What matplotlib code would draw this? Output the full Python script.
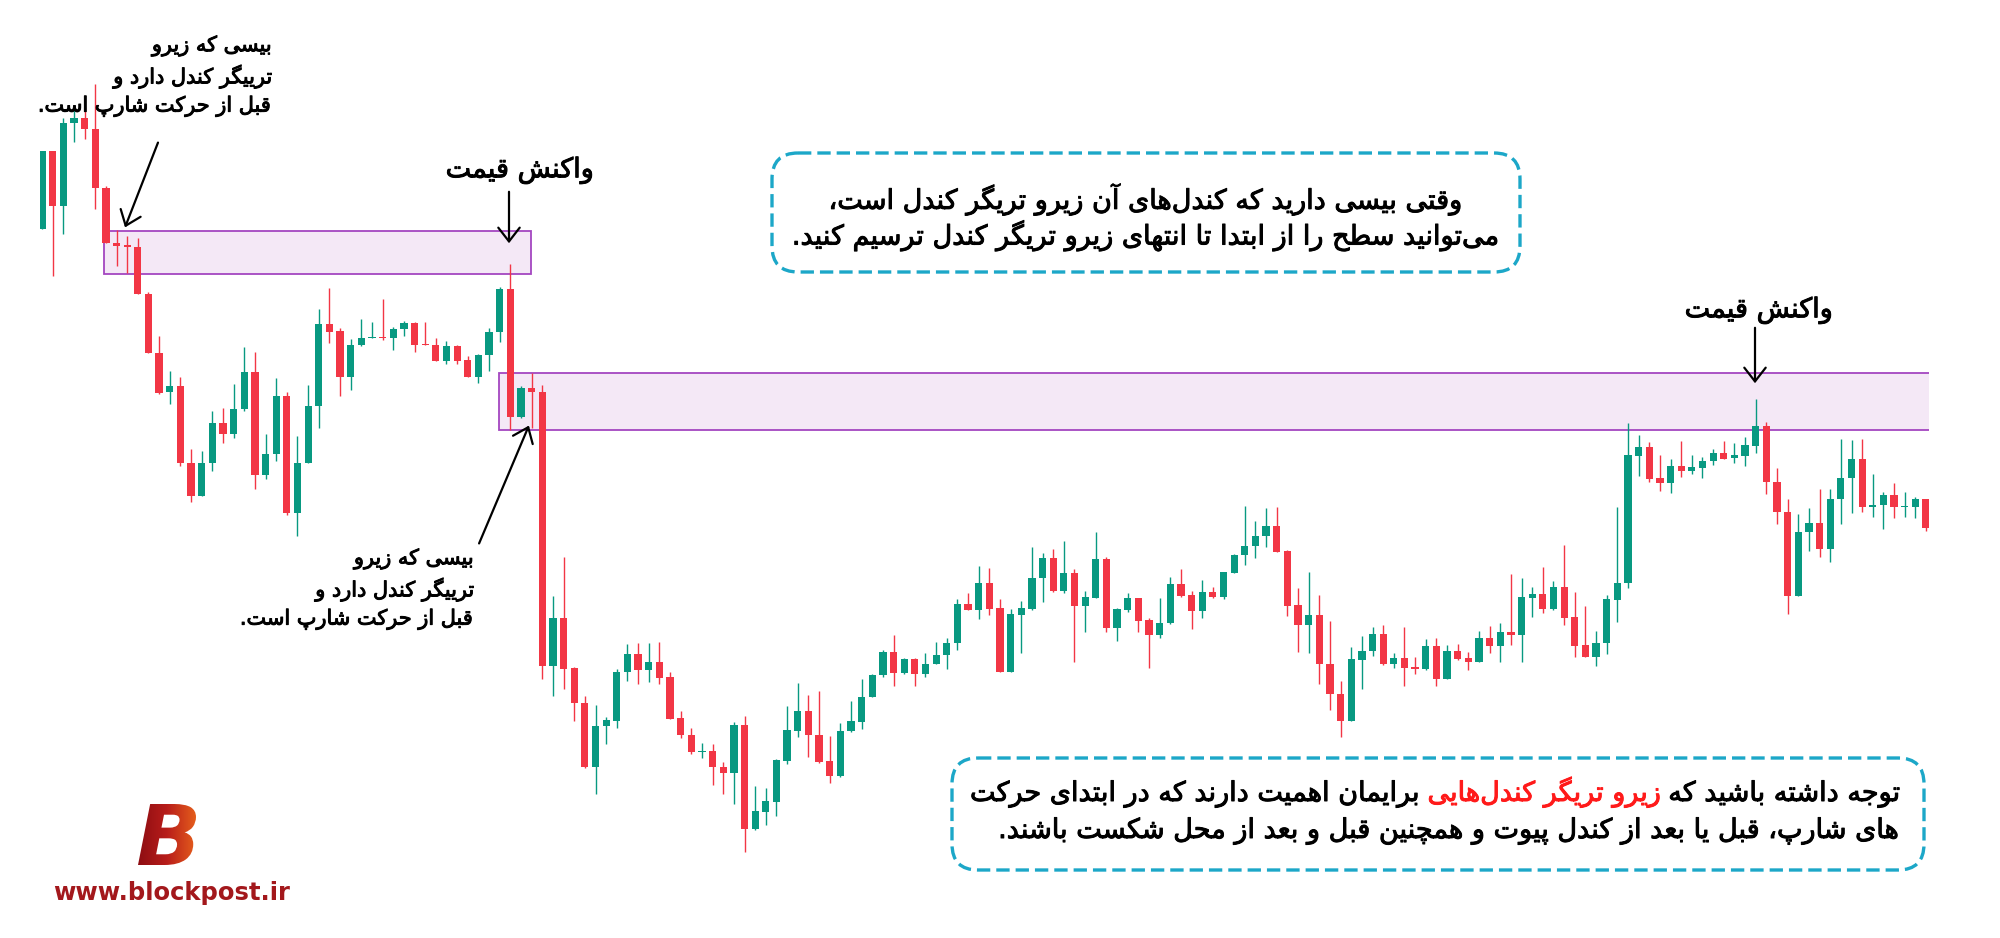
import numpy as np
import matplotlib
matplotlib.use("Agg")
import matplotlib.pyplot as plt
import matplotlib.patheffects as pe
from matplotlib.patches import Rectangle, FancyBboxPatch, FancyArrowPatch, PathPatch
from matplotlib.textpath import TextPath
from matplotlib.font_manager import FontProperties
from matplotlib.transforms import Affine2D
from matplotlib.colors import LinearSegmentedColormap

# candle data (price units)
opens = [771, 849, 794, 877, 882, 871, 812, 757, 755, 753,
         706, 647, 608, 614, 537, 504, 537, 577, 566, 591,
         628, 525, 546, 604, 487, 537, 594, 676, 669, 623,
         655, 662, 663, 662, 671, 677, 656, 655, 639, 654,
         640, 623, 645, 668, 711, 583, 612, 608, 334, 382,
         332, 297, 233, 274, 279, 328, 346, 330, 338, 323,
         282, 265, 248, 249, 233, 227, 275, 171, 188, 198,
         239, 269, 289, 265, 239, 224, 269, 278, 303, 325,
         348, 327, 341, 326, 336, 345, 357, 396, 390, 417,
         392, 328, 385, 391, 422, 442, 409, 427, 394, 402,
         441, 372, 390, 402, 380, 365, 377, 416, 405, 389,
         408, 403, 427, 445, 454, 464, 474, 449, 395, 375,
         385, 336, 306, 279, 340, 349, 366, 336, 342, 333,
         331, 354, 321, 349, 342, 338, 362, 354, 368, 365,
         402, 406, 391, 413, 383, 355, 343, 357, 400, 417,
         544, 553, 522, 517, 534, 529, 532, 539, 547, 542,
         544, 554, 574, 518, 488, 404, 468, 477, 451, 501,
         522, 541, 493, 495, 505, 493, 493, 501]
highs = [849, 849, 882, 894, 893, 916, 814, 770, 764, 762,
         708, 664, 629, 623, 551, 549, 589, 592, 616, 653,
         648, 566, 622, 608, 564, 615, 691, 712, 672, 661,
         681, 678, 701, 673, 679, 678, 678, 662, 659, 655,
         644, 646, 672, 713, 736, 614, 627, 615, 404, 443,
         333, 304, 295, 283, 331, 356, 357, 357, 358, 328,
         289, 272, 257, 256, 238, 278, 284, 214, 212, 241,
         294, 317, 305, 309, 264, 277, 299, 321, 326, 350,
         365, 342, 342, 347, 358, 362, 401, 407, 434, 432,
         401, 391, 399, 453, 447, 451, 459, 431, 409, 468,
         443, 392, 407, 402, 382, 402, 423, 431, 409, 420,
         413, 428, 446, 494, 479, 492, 493, 450, 412, 428,
         405, 379, 319, 353, 364, 373, 375, 347, 373, 343,
         361, 362, 355, 356, 348, 369, 374, 377, 426, 422,
         413, 433, 419, 455, 408, 394, 369, 405, 493, 577,
         565, 558, 545, 541, 559, 545, 543, 551, 559, 557,
         563, 601, 578, 532, 501, 486, 492, 511, 511, 561,
         560, 561, 526, 508, 517, 508, 503, 501]
lows = [771, 724, 766, 858, 861, 791, 757, 734, 727, 706,
        647, 606, 596, 534, 498, 504, 529, 557, 562, 589,
        511, 521, 539, 485, 464, 537, 572, 657, 604, 610,
        654, 662, 660, 650, 664, 648, 655, 639, 636, 636,
        623, 617, 629, 658, 570, 582, 572, 321, 304, 311,
        279, 232, 206, 256, 272, 319, 316, 318, 316, 281,
        262, 246, 242, 215, 206, 196, 148, 170, 175, 184,
        236, 263, 243, 237, 217, 223, 268, 271, 303, 323,
        314, 326, 314, 323, 336, 331, 350, 390, 381, 385,
        328, 328, 347, 390, 398, 408, 407, 338, 368, 402,
        368, 359, 388, 368, 332, 362, 376, 403, 371, 382,
        402, 401, 427, 435, 442, 453, 448, 384, 348, 347,
        316, 290, 263, 279, 311, 344, 335, 332, 314, 326,
        330, 314, 321, 340, 330, 338, 347, 338, 355, 338,
        383, 387, 390, 375, 343, 343, 334, 346, 378, 412,
        524, 518, 509, 507, 523, 526, 522, 535, 541, 537,
        534, 547, 506, 476, 386, 404, 449, 443, 438, 476,
        487, 488, 483, 471, 482, 483, 482, 469]
closes = [849, 794, 877, 882, 871, 812, 757, 754, 753, 706,
          647, 607, 614, 537, 504, 537, 577, 566, 591, 628,
          525, 546, 604, 487, 537, 594, 676, 668, 623, 655,
          662, 663, 662, 671, 677, 655, 655, 639, 654, 639,
          623, 645, 668, 711, 583, 612, 608, 334, 382, 331,
          297, 233, 274, 280, 328, 346, 330, 338, 322, 281,
          265, 248, 249, 233, 227, 275, 171, 189, 199, 240,
          270, 289, 265, 238, 224, 269, 279, 303, 325, 348,
          327, 341, 326, 336, 345, 357, 396, 390, 417, 391,
          328, 386, 392, 422, 442, 409, 427, 394, 403, 441,
          372, 391, 402, 379, 365, 377, 416, 404, 389, 408,
          403, 428, 445, 454, 464, 474, 448, 394, 375, 385,
          336, 306, 279, 341, 349, 366, 336, 342, 332, 331,
          354, 321, 349, 341, 338, 362, 354, 368, 365, 403,
          406, 391, 413, 382, 354, 343, 357, 401, 417, 545,
          553, 521, 517, 534, 529, 533, 539, 547, 541, 545,
          555, 574, 518, 488, 404, 468, 477, 451, 501, 522,
          541, 493, 495, 505, 493, 494, 501, 472]

# zones: (first candle, last candle, low, high)
zones = [(5.85, 45.9, 726, 769), (42.9, 180, 570, 627)]

# texts
ann_lines = ["بیسی که زیرو", "ترییگر کندل دارد و", "قبل از حرکت شارپ است."]
react = "واکنش قیمت"
top_box = ["وقتی بیسی دارید که کندل\u200cهای آن زیرو تریگر کندل است،",
           "می\u200cتوانید سطح را از ابتدا تا انتهای زیرو تریگر کندل ترسیم کنید."]
note_a = "توجه داشته باشید که"
note_b = "زیرو تریگر کندل\u200cهایی"
note_c = "برایمان اهمیت دارند که در ابتدای حرکت"
note_2 = "های شارپ، قبل یا بعد از کندل پیوت و همچنین قبل و بعد از محل شکست باشند."

GREEN = "#089981"
RED = "#f23645"
BLUE = "#1ca7c8"

# simple persian shaping (presentation forms + right to left)
FORMS = {
    "\u0627": ("\ufe8d", "\ufe8e", None, None),
    "\u0622": ("\ufe81", "\ufe82", None, None),
    "\u0628": ("\ufe8f", "\ufe90", "\ufe91", "\ufe92"),
    "\u067e": ("\ufb56", "\ufb57", "\ufb58", "\ufb59"),
    "\u062a": ("\ufe95", "\ufe96", "\ufe97", "\ufe98"),
    "\u062c": ("\ufe9d", "\ufe9e", "\ufe9f", "\ufea0"),
    "\u0686": ("\ufb7a", "\ufb7b", "\ufb7c", "\ufb7d"),
    "\u062d": ("\ufea1", "\ufea2", "\ufea3", "\ufea4"),
    "\u062f": ("\ufea9", "\ufeaa", None, None),
    "\u0631": ("\ufead", "\ufeae", None, None),
    "\u0632": ("\ufeaf", "\ufeb0", None, None),
    "\u0633": ("\ufeb1", "\ufeb2", "\ufeb3", "\ufeb4"),
    "\u0634": ("\ufeb5", "\ufeb6", "\ufeb7", "\ufeb8"),
    "\u0637": ("\ufec1", "\ufec2", "\ufec3", "\ufec4"),
    "\u0639": ("\ufec9", "\ufeca", "\ufecb", "\ufecc"),
    "\u0642": ("\ufed5", "\ufed6", "\ufed7", "\ufed8"),
    "\u06a9": ("\ufb8e", "\ufb8f", "\ufb90", "\ufb91"),
    "\u06af": ("\ufb92", "\ufb93", "\ufb94", "\ufb95"),
    "\u0644": ("\ufedd", "\ufede", "\ufedf", "\ufee0"),
    "\u0645": ("\ufee1", "\ufee2", "\ufee3", "\ufee4"),
    "\u0646": ("\ufee5", "\ufee6", "\ufee7", "\ufee8"),
    "\u0647": ("\ufee9", "\ufeea", "\ufeeb", "\ufeec"),
    "\u0648": ("\ufeed", "\ufeee", None, None),
    "\u06cc": ("\ufbfc", "\ufbfd", "\ufbfe", "\ufbff"),
}


def fa(s):
    s = s.replace("\u064a", "\u06cc").replace("\u0643", "\u06a9")
    out = []
    for i, ch in enumerate(s):
        f = FORMS.get(ch)
        if f is None:
            if ch != "\u200c":
                out.append(ch)
            continue
        prv = s[i - 1] if i > 0 else ""
        nxt = s[i + 1] if i + 1 < len(s) else ""
        jp = prv in FORMS and FORMS[prv][2] is not None
        jn = f[2] is not None and nxt in FORMS
        if jp and jn:
            out.append(f[3])
        elif jp:
            out.append(f[1])
        elif jn:
            out.append(f[2])
        else:
            out.append(f[0])
    return "".join(reversed(out))


def thick(col="black", w=0.7):
    return [pe.withStroke(linewidth=w, foreground=col)]


plt.rcParams["font.family"] = ["DejaVu Sans"]

fig = plt.figure(figsize=(20, 9.38), dpi=100)
ax = fig.add_axes([0.02, 0, 0.9445, 1], zorder=1)

o = np.array(opens)
h = np.array(highs)
l = np.array(lows)
c = np.array(closes)
x = np.arange(len(o))
cols = np.where(c >= o, GREEN, RED)

for z in zones:
    ax.add_patch(Rectangle((z[0], z[2]), z[1] - z[0], z[3] - z[2],
                           facecolor=(0.612, 0.153, 0.69, 0.1),
                           edgecolor="#a446c0", lw=1.3, zorder=1))

ax.vlines(x, l, h, colors=cols, lw=1.0, zorder=2)
ax.bar(x, np.maximum(np.abs(c - o), 1.5), bottom=np.minimum(o, c),
       width=0.68, color=cols, linewidth=0, zorder=3)

ax.set_xlim(-0.19, 177.28)
ax.set_ylim(62, 1000)
ax.axis("off")

# overlay in pixel units for annotations
lay = fig.add_axes([0, 0, 1, 1], zorder=2)
lay.patch.set_alpha(0)


def arrow(p0, p1):
    lay.add_patch(FancyArrowPatch(p0, p1, arrowstyle="->,head_length=0.45,head_width=0.35",
                                  mutation_scale=22, lw=1.6, color="black"))


fs_small = 15
for xr, yc in [(272, 76), (474, 589)]:
    lay.text(xr, yc, "\n".join(fa(s) for s in ann_lines), ha="right", va="center",
             multialignment="right", fontsize=fs_small, linespacing=1.45,
             path_effects=thick())
arrow((159, 140), (124, 230))
arrow((478, 546), (530, 423))

lay.text(520, 170, fa(react), ha="center", va="center", fontsize=19.5, path_effects=thick())
arrow((509, 189), (509, 246))
lay.text(1759, 310, fa(react), ha="center", va="center", fontsize=19.5, path_effects=thick())
arrow((1755, 325), (1755, 386))

fs_box = 19.5
# top note box
lay.add_patch(FancyBboxPatch((772, 153), 748, 119, boxstyle="round,pad=0,rounding_size=26",
                             fill=False, edgecolor=BLUE, lw=2.4, linestyle=(0, (4, 1.8))))
lay.text(1146, 200, fa(top_box[0]), ha="center", va="center", fontsize=fs_box,
         path_effects=thick())
lay.text(1146, 236, fa(top_box[1]), ha="center", va="center", fontsize=fs_box,
         path_effects=thick())

# bottom note box
lay.add_patch(FancyBboxPatch((952, 758), 972, 112, boxstyle="round,pad=0,rounding_size=26",
                             fill=False, edgecolor=BLUE, lw=2.4, linestyle=(0, (4, 1.8))))
rend = fig.canvas.get_renderer()
xr = 1900
for part, col in [(note_a, "black"), (note_b, "#ff1a1a"), (note_c, "black")]:
    t = lay.text(xr, 801, fa(part), ha="right", va="baseline", fontsize=fs_box, color=col,
                 path_effects=thick(col))
    xr -= t.get_window_extent(renderer=rend).width + 7
lay.text(1900, 838, fa(note_2), ha="right", va="baseline", fontsize=fs_box,
         path_effects=thick())

# logo
fp = FontProperties(family="DejaVu Sans", weight="bold", style="italic")
tp = TextPath((0, 0), "B", size=100, prop=fp)
bb = tp.get_extents()
tr = (Affine2D().translate(-bb.x0, -bb.y0)
      .scale(58 / bb.width, -61 / bb.height).translate(138, 865) + lay.transData)
clip = PathPatch(tp, transform=tr, facecolor="none", edgecolor="none")
lay.add_patch(clip)
cmap = LinearSegmentedColormap.from_list("logo", ["#8a0c12", "#b81d1a", "#e8621c"])
im = lay.imshow(np.linspace(0, 1, 256).reshape(1, -1), extent=(136, 198, 866, 803),
                cmap=cmap, aspect="auto", interpolation="bilinear")
im.set_clip_path(clip)
lay.text(172, 893, "www.blockpost.ir", ha="center", va="center", fontsize=17.5,
         fontweight="heavy", color="#a3181c")

lay.set_xlim(0, 2000)
lay.set_ylim(938, 0)
lay.axis("off")

fig.savefig("out.png", dpi=100)
